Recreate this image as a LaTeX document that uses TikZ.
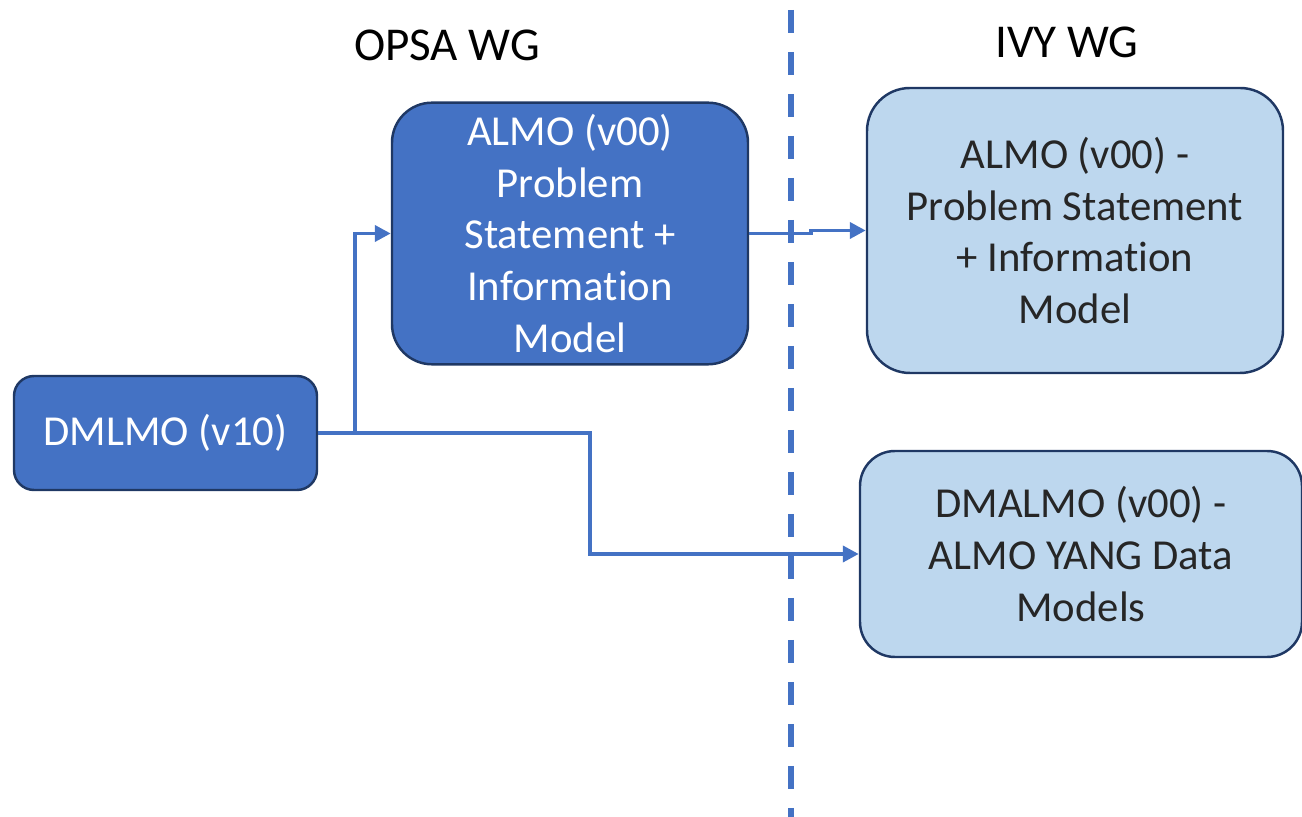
\documentclass[tikz,border=0pt]{standalone}
\usepackage{fontspec}
\setmainfont[Ligatures=NoCommon]{Carlito}
\usepackage{tikz}
\usetikzlibrary{arrows.meta}

\definecolor{accent}{HTML}{4472C4}
\definecolor{accentline}{HTML}{1F3864}
\definecolor{paleblue}{HTML}{BDD7EE}
\definecolor{darktext}{HTML}{262626}

\begin{document}
\begin{tikzpicture}
\tikzstyle{every node} = [align=center,font=\fontsize{12.15}{14.7}\selectfont]
\tikzstyle{wg} = [font=\fontsize{13.4}{16}\selectfont]
\tikzstyle{darkbox} = [draw=accentline,line width=0.7pt,fill=accent,text=white]
\tikzstyle{lightbox} = [draw=accentline,line width=0.7pt,fill=paleblue,text=darktext]
\tikzstyle{link} = [draw=accent,line width=1.1pt,-{Triangle[length=0.16cm,width=0.16cm]}]
\useasboundingbox (0,0) rectangle (13.02,8.17);
\path (4.47,7.72) node[wg] (opsa) {OPSA WG}
		(10.67,7.75) node[wg] (ivy) {IVY WG}
		(1.655,3.84) node[darkbox,minimum width=3.03cm,minimum height=1.14cm,rounded corners=0.2cm] (dmlmo) {DMLMO (v10)}
		(5.70,5.835) node[darkbox,minimum width=3.56cm,minimum height=2.61cm,rounded corners=0.4cm] (almo) {ALMO (v00)\\Problem\\Statement +\\Information\\Model}
		(10.75,5.865) node[lightbox,minimum width=4.16cm,minimum height=2.85cm,rounded corners=0.43cm] (ivyalmo) {ALMO (v00) -\\Problem Statement\\+ Information\\Model}
		(10.81,2.63) node[lightbox,minimum width=4.42cm,minimum height=2.06cm,rounded corners=0.35cm] (dmalmo) {DMALMO (v00) -\\ALMO YANG Data\\Models};

	\draw[accent,line width=0.06cm,dash pattern=on 0.23cm off 0.19cm] (7.91,8.07) -- (7.91,-0.1);
	\draw[link] (node cs:name=dmlmo,anchor=east) -- ++(0.37,0) |- (node cs:name=almo,anchor=west);
	\draw[link] (node cs:name=dmlmo,anchor=east) -- ++(2.72,0) |- (node cs:name=dmalmo,anchor=west);
	\draw[link] (node cs:name=almo,anchor=east) -- ++(0.62,0) |- (node cs:name=ivyalmo,anchor=west);
\end{tikzpicture}
\end{document}
